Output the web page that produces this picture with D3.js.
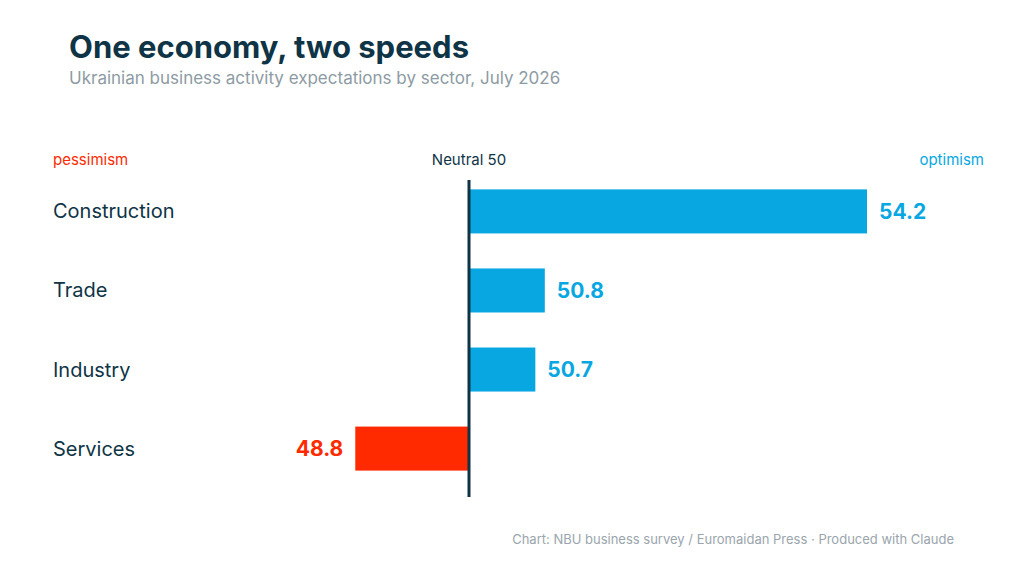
<!DOCTYPE html>
<html><head><meta charset="utf-8">
<script src="https://cdn.jsdelivr.net/npm/d3@7"></script>
<style>body{margin:0;background:#fff}svg{display:block;font-family:Inter,"Open Sans",sans-serif}</style>
</head><body><svg id="c" width="1024" height="581"></svg>
<script>
const categories=["Construction","Trade","Industry","Services"];
const values=[54.2,50.8,50.7,48.8];
const neutral=50;
const svg=d3.select("#c");
const dark="#0e3446", blue="#08a7e2", red="#ff2a00";
const x=d3.scaleLinear().domain([50,54.2]).range([469,867]);
const y=d3.scaleBand().domain(categories).range([172,488]).paddingInner(0.443).paddingOuter(0.22);
svg.append("text").attr("x",69).attr("y",58).attr("font-size",31).attr("font-weight",700).attr("fill",dark).text("One economy, two speeds");
svg.append("text").attr("x",69).attr("y",84).attr("font-size",17).attr("fill","#8d9ba4").text("Ukrainian business activity expectations by sector, July 2026");
svg.append("text").attr("x",53).attr("y",165).attr("font-size",15).attr("fill",red).text("pessimism");
svg.append("text").attr("x",984).attr("y",165).attr("font-size",15).attr("fill",blue).attr("text-anchor","end").text("optimism");
svg.append("text").attr("x",469).attr("y",165).attr("font-size",15).attr("fill",dark).attr("text-anchor","middle").text("Neutral 50");
categories.forEach((c,i)=>{
  const v=values[i], pos=v>=neutral, col=pos?blue:red;
  const yc=y(c)+y.bandwidth()/2;
  svg.append("rect").attr("x",Math.min(x(v),x(neutral))).attr("y",y(c)).attr("width",Math.abs(x(v)-x(neutral))).attr("height",y.bandwidth()).attr("fill",col);
  svg.append("text").attr("x",53).attr("y",yc).attr("dy","0.35em").attr("font-size",20).attr("fill",dark).text(c);
  svg.append("text").attr("x",pos?x(v)+12:x(v)-12).attr("y",yc).attr("dy","0.35em").attr("text-anchor",pos?"start":"end").attr("font-size",21).attr("font-weight",700).attr("fill",col).text(v.toFixed(1));
});
svg.append("line").attr("x1",x(neutral)).attr("x2",x(neutral)).attr("y1",180).attr("y2",497).attr("stroke",dark).attr("stroke-width",3);
svg.append("text").attr("x",954).attr("y",544).attr("text-anchor","end").attr("font-size",13).attr("fill","#9aa5ad").text("Chart: NBU business survey / Euromaidan Press  ·  Produced with Claude");
</script></body></html>
